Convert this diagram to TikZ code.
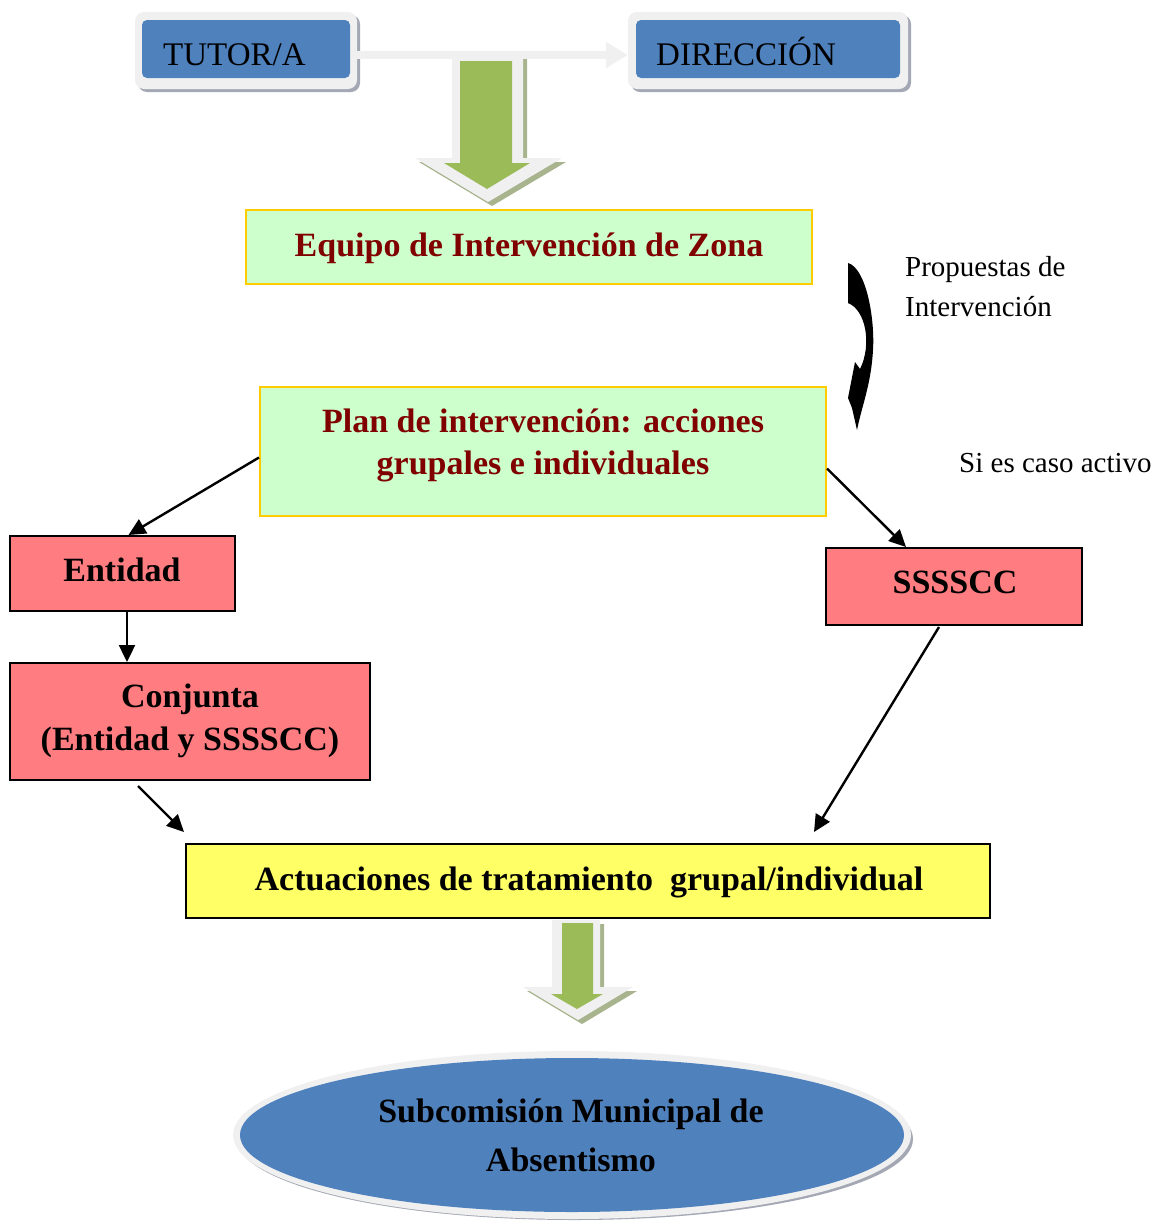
\documentclass[tikz,border=0pt]{standalone}
\usepackage{fontspec}
\setmainfont{Liberation Serif}
\usetikzlibrary{arrows.meta,calc,shapes.geometric}
\definecolor{blueA}{HTML}{4F81BD}
\definecolor{frameC}{HTML}{F0F0F0}
\definecolor{shadowC}{HTML}{A3A8B4}
\definecolor{greenA}{HTML}{9BBB59}
\definecolor{greenSh}{HTML}{A8B48E}
\definecolor{lightG}{HTML}{CCFFCC}
\definecolor{goldB}{HTML}{FFCC00}
\definecolor{darkR}{HTML}{800000}
\definecolor{salmon}{HTML}{FF7C80}
\definecolor{yellowF}{HTML}{FFFF66}
\begin{document}
\begin{tikzpicture}[x=1pt,y=-1pt,
  boldtxt/.style={font=\fontsize{34}{42}\selectfont\bfseries, inner sep=0pt},
  regtxt/.style={font=\fontsize{29}{40}\selectfont, inner sep=0pt},
  captxt/.style={font=\fontsize{33}{40}\selectfont, inner sep=0pt},
  greenbox/.style={draw=goldB, line width=2pt, fill=lightG, inner sep=0pt},
  redbox/.style={draw=black, line width=2pt, fill=salmon, inner sep=0pt},
  yelbox/.style={draw=black, line width=2pt, fill=yellowF, inner sep=0pt},
  bluebox/.style={fill=blueA, rounded corners=5pt, inner sep=0pt},
  conn/.style={draw=black, line width=2.4pt, -{Triangle[length=17pt,width=16pt]}}
]
\useasboundingbox (0,0) rectangle (1152,1224);

% ---------- top blue boxes ----------
\fill[shadowC, rounded corners=9pt] (138,15) rectangle (360,92);
\fill[frameC, rounded corners=9pt] (135,12) rectangle (357,89);
\node[bluebox, minimum width=208pt, minimum height=58pt] (tutor) at (246,49) {};
\node[captxt, anchor=base west] (tutortxt) at (163,65) {TUTOR/A};

\fill[shadowC, rounded corners=9pt] (631,15) rectangle (911,92);
\fill[frameC, rounded corners=9pt] (628,12) rectangle (908,89);
\node[bluebox, minimum width=264pt, minimum height=58pt] (direc) at (768,49) {};
\node[captxt, anchor=base west] (directxt) at (656,65) {DIRECCIÓN};

% light arrow tutor -> direccion
\draw[line width=8pt, draw=frameC, -{Triangle[length=22pt,width=25pt]}]
  ($(tutor.east)+(7,6)$) -- ($(direc.west)+(-8,6)$);

% ---------- green block arrow 1 ----------
\fill[greenSh] (456,59) -- (527,59) -- (527,162) -- (566,162) -- (492,206) -- (419,162) -- (456,162) -- cycle;
\fill[frameC] (452,55) -- (523,55) -- (523,158) -- (562,158) -- (488,202) -- (415,158) -- (452,158) -- cycle;
\fill[greenA] (460,61) -- (512,61) -- (512,163) -- (530,163) -- (487,189) -- (444,163) -- (460,163) -- cycle;

% ---------- green boxes ----------
\node[greenbox, minimum width=566pt, minimum height=74pt] (equipo) at (529,247) {};
\node[boldtxt, text=darkR, anchor=base] (equipotxt) at (529,256) {Equipo de Intervención de Zona};

\node[greenbox, minimum width=566pt, minimum height=129pt] (plan) at (543,451.5) {};
\node[boldtxt, text=darkR, anchor=base] (plantxt1) at (543,432) {Plan de intervención: acciones};
\node[boldtxt, text=darkR, anchor=base] (plantxt2) at (543,474) {grupales e individuales};

% curved black arrow
\fill[black] (848,263) .. controls (866,268) and (875,318) .. (873,350)
  .. controls (871,385) and (862,405) .. (857,430)
  -- (852,408) -- (848,398) -- (855,362) -- (860,369)
  .. controls (872,345) and (866,310) .. (848,303) -- cycle;

\node[regtxt, anchor=base west] (prop1) at (905,276) {Propuestas de};
\node[regtxt, anchor=base west] (prop2) at (905,316) {Intervención};
\node[regtxt, anchor=base west] (sies) at (959,472) {Si es caso activo};

% ---------- red boxes ----------
\node[redbox, minimum width=225pt, minimum height=75pt] (entidad) at (122.5,573.5) {};
\node[boldtxt, anchor=base] (entidadtxt) at (122,581) {Entidad};

\node[redbox, minimum width=360pt, minimum height=117pt] (conj) at (190,721.5) {};
\node[boldtxt, anchor=base] (conjtxt1) at (190,707) {Conjunta};
\node[boldtxt, anchor=base] (conjtxt2) at (190,750) {(Entidad y SSSSCC)};

\node[redbox, minimum width=256pt, minimum height=77pt] (ss) at (954,586.5) {};
\node[boldtxt, anchor=base] (sstxt) at (955,593) {SSSSCC};

% ---------- yellow box ----------
\node[yelbox, minimum width=804pt, minimum height=74pt] (act) at (588,881) {};
\node[boldtxt, anchor=base] (acttxt) at (589,890) {Actuaciones de tratamiento \ grupal/individual};

% ---------- connectors ----------
\draw[conn] ($(plan.west)+(0,6)$) -- ($(entidad.north)+(6,0)$);
\draw[conn] ($(plan.east)+(0,17)$) -- ($(ss.north)+(-48,0)$);
\draw[conn] ($(entidad.south)+(4.5,0)$) -- ($(conj.north)+(-63,0)$);
\draw[conn] ($(conj.south)+(-52,5)$) -- ($(act.north west)+(-1,-11)$);
\draw[conn] ($(ss.south)+(-15,1)$) -- ($(act.north east)+(-177,-11)$);

% ---------- green block arrow 2 ----------
\fill[greenSh] (556,924) -- (604,924) -- (604,991) -- (637,991) -- (582,1024) -- (527,991) -- (556,991) -- cycle;
\fill[frameC] (552,920) -- (600,920) -- (600,987) -- (633,987) -- (578,1020) -- (523,987) -- (552,987) -- cycle;
\fill[greenA] (562,923) -- (593,923) -- (593,994) -- (603,994) -- (577,1009) -- (551,994) -- (562,994) -- cycle;

% ---------- ellipse ----------
\fill[shadowC] (575,1139) ellipse [x radius=338, y radius=81];
\fill[frameC] (572,1135) ellipse [x radius=339, y radius=84];
\node[ellipse, fill=blueA, minimum width=664pt, minimum height=154pt, inner sep=0pt] (sub) at (572,1135) {};
\node[boldtxt, anchor=base] (subtxt1) at (571,1122) {Subcomisión Municipal de};
\node[boldtxt, anchor=base] (subtxt2) at (571,1171) {Absentismo};
\end{tikzpicture}
\end{document}
